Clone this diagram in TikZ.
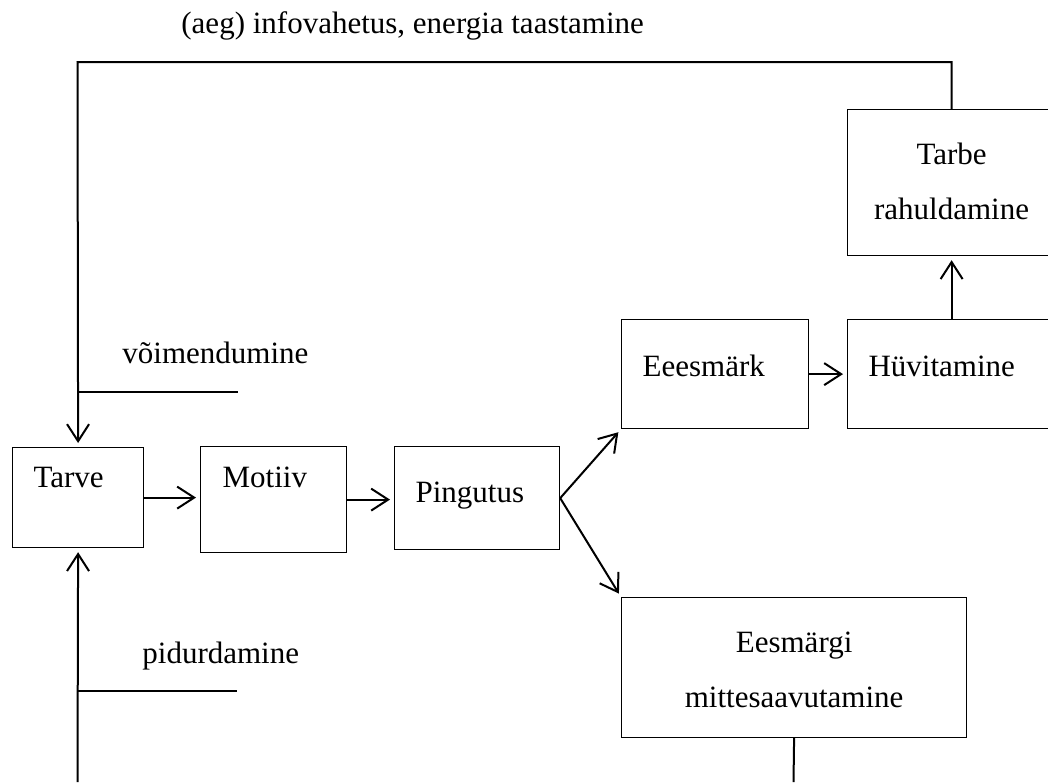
\documentclass[tikz,border=0pt]{standalone}
\usepackage{fontspec}
\setmainfont{Liberation Serif}
\usetikzlibrary{arrows.meta,positioning}
\tikzset{
  box/.style={
    draw=black,
    line width=0.6pt,
    anchor=north west,
    align=left,
    inner xsep=10.5pt,
    inner ysep=0pt,
    font=\fontsize{15.5}{27.5}\selectfont
  },
  tallbox/.style={
    box,
    align=center,
    inner xsep=0pt
  },
  note/.style={
    anchor=base west,
    inner sep=0pt,
    font=\fontsize{15.5}{27.5}\selectfont
  },
  arrow/.style={-{Straight Barb[length=8.5pt,width=11pt]}, line width=1pt, shorten >=2pt},
  wire/.style={line width=1pt}
}

\begin{document}
\begin{tikzpicture}[x=0.5pt, y=-0.5pt]
  \useasboundingbox (0,0) rectangle (1048,782);

  \node[box, text width=44.5pt, text height=20pt, text depth=30pt] (tarve) at (12,447) {Tarve};
  \node[box, inner xsep=11pt, text width=51pt, text height=20.5pt, text depth=32.5pt] (motiiv) at (200,446) {Motiiv};
  \node[box, text width=61.5pt, text height=28pt, text depth=23.5pt] (pingutus) at (394,446) {Pingutus};
  \node[box, text width=72.5pt, text height=28.5pt, text depth=26pt] (eesmark) at (621,319) {Eeesmärk};
  \node[box, text width=83pt, text height=28.5pt, text depth=26pt] (huvitamine) at (847,319) {Hüvitamine};
  \node[tallbox, text width=104pt, text height=27.5pt, text depth=45.5pt] (tarbe) at (847,109) {Tarbe\\rahuldamine};
  \node[tallbox, text width=172.5pt, text height=27.5pt, text depth=42.5pt] (mitteSaavutamine) at (621,597) {Eesmärgi\\mittesaavutamine};

  \node[note] (topNote) at (181,33) {(aeg) infovahetus, energia taastamine};
  \node[note] (gainNote) at (122,363) {võimendumine};
  \node[note] (brakeNote) at (142,663) {pidurdamine};

  \coordinate (topLeft) at (77.5,62);
  \coordinate (bottomLeft) at (77.5,782);
  \coordinate (gainEnd) at (238,392);
  \coordinate (brakeEnd) at (237,691);
  \coordinate (failEnd) at (793.5,782);

  % tagasiside ja mõjutajad
  \draw[arrow] (tarbe.north) |- (topLeft) -- (tarve.north);
  \draw[wire] (gainEnd -| topLeft) -- (gainEnd);
  \draw[arrow] (bottomLeft) -- (tarve.south);
  \draw[wire] (brakeEnd -| bottomLeft) -- (brakeEnd);

  \draw[arrow] (tarve.east) -- (tarve.east -| motiiv.west);
  \draw[arrow] (motiiv.east) -- (motiiv.east -| pingutus.west);
  \draw[arrow] (pingutus.east) -- (eesmark.south west);
  \draw[arrow] (pingutus.east) -- (mitteSaavutamine.north west);
  \draw[arrow] (eesmark.east) -- (eesmark.east -| huvitamine.west);
  \draw[arrow] (huvitamine.north) -- (tarbe.south);
  \draw[wire] (mitteSaavutamine.south) -- (failEnd);
\end{tikzpicture}
\end{document}
